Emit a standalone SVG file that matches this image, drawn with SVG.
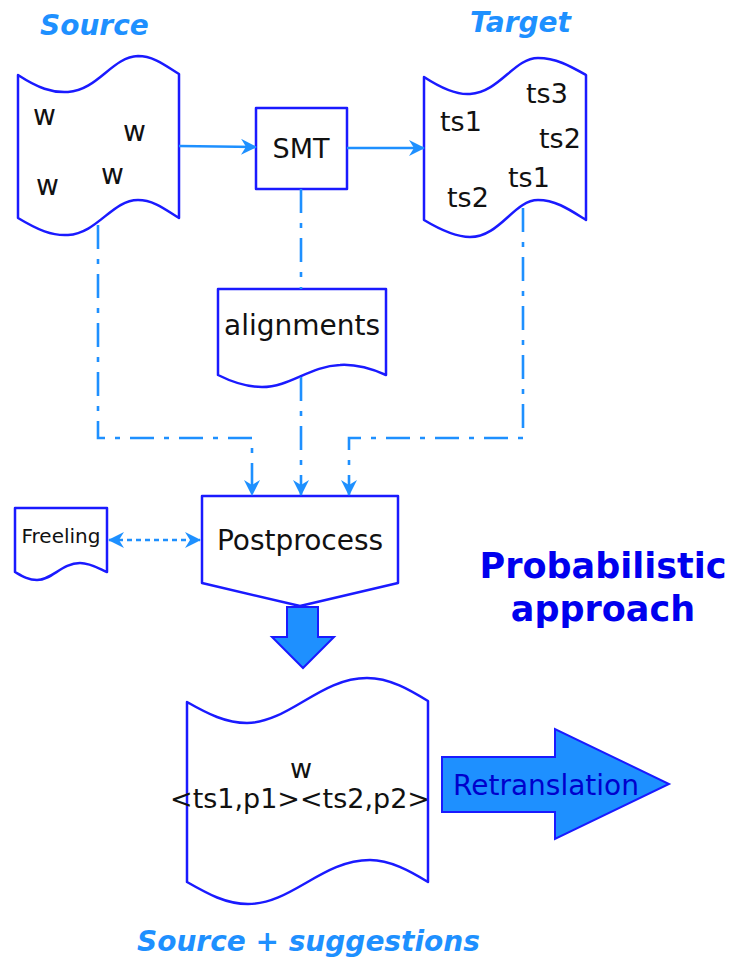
<svg xmlns="http://www.w3.org/2000/svg" width="734" height="961" viewBox="0 0 734 961">
<defs>
<style>
.doc{fill:#fff;stroke:#1a1aff;stroke-width:2.5;stroke-linejoin:round}
.t{font-family:"DejaVu Sans",sans-serif;fill:#111}
.lbl{font-family:"DejaVu Sans",sans-serif;font-weight:bold;font-style:italic;fill:#1e90ff;font-size:28px}
.c{fill:none;stroke:#1e90ff;stroke-width:2.6}
.dd{stroke-dasharray:24,10,5,10}
.big{fill:#1e90ff;stroke:#1a1aff;stroke-width:2}
</style>
<marker id="ah" viewBox="0 0 16 16" refX="15" refY="8" markerWidth="16" markerHeight="16" markerUnits="userSpaceOnUse" orient="auto">
<path d="M0,0 L16,8 L0,16 L5,8 Z" fill="#1e90ff"/>
</marker>
<marker id="ah2" viewBox="0 0 16 16" refX="15" refY="8" markerWidth="16" markerHeight="16" markerUnits="userSpaceOnUse" orient="auto-start-reverse">
<path d="M0,0 L16,8 L0,16 L5,8 Z" fill="#1e90ff"/>
</marker>
</defs>
<text class="lbl" x="40" y="35">Source</text>
<text class="lbl" x="470" y="32">Target</text>
<text class="lbl" x="137" y="951">Source + suggestions</text>
<g id="source">
<path class="doc" d="M18,75 C38,88 52,93 68,92 C98,90 112,57 138,56 C154,56 166,66 179,74 L179,218 C166,210 154,200 138,200 C112,200 98,233 68,235 C52,236 38,230 18,218 Z"/>
<text class="t" x="33" y="125" font-size="28">w</text>
<text class="t" x="123" y="141" font-size="28">w</text>
<text class="t" x="36" y="195" font-size="28">w</text>
<text class="t" x="101" y="184" font-size="28">w</text>
</g>
<g id="smt">
<rect class="doc" x="256" y="108" width="91" height="81"/>
<text class="t" x="301" y="158" font-size="27" text-anchor="middle">SMT</text>
</g>
<g id="target">
<path class="doc" d="M424,77 C444,90 458,95 470,94 C500,92 514,58 538,58 C556,58 570,66 586,75 L586,220 C570,210 556,200 538,200 C514,200 500,237 470,237 C458,237 444,232 424,220 Z"/>
<text class="t" x="526" y="103" font-size="27">ts3</text>
<text class="t" x="440" y="131" font-size="27">ts1</text>
<text class="t" x="539" y="148" font-size="27">ts2</text>
<text class="t" x="508" y="187" font-size="27">ts1</text>
<text class="t" x="447" y="207" font-size="27">ts2</text>
</g>
<g id="alignments">
<path class="doc" d="M218,289 L386,289 L386,375 C370,368 356,364 340,365 C310,366 290,387 262,387 C246,387 232,382 218,375 Z"/>
<text class="t" x="302" y="335" font-size="28" text-anchor="middle">alignments</text>
</g>
<g id="postprocess">
<path class="doc" d="M202,496 L398,496 L398,583 L300,606 L202,583 Z"/>
<text class="t" x="300" y="550" font-size="28" text-anchor="middle">Postprocess</text>
</g>
<g id="freeling">
<path class="doc" d="M15,508 L107,508 L107,572 C98,568 90,563 80,563 C62,563 52,580 37,580 C28,580 22,576 15,572 Z"/>
<text class="t" x="61" y="543" font-size="20" text-anchor="middle">Freeling</text>
</g>
<g id="suggestions">
<path class="doc" d="M187,702 C208,714 226,723 247,723 C290,722 320,678 367,678 C390,678 410,690 428,701 L428,882 C410,871 390,860 370,860 C322,860 292,904 248,904 C226,904 208,894 187,882 Z"/>
<text class="t" x="301" y="778" font-size="27" text-anchor="middle">w</text>
<text class="t" x="300" y="808" font-size="27" text-anchor="middle">&lt;ts1,p1&gt;&lt;ts2,p2&gt;</text>
</g>
<g id="retranslation">
<path class="big" d="M442,757 L555,757 L555,729 L669,784 L555,839 L555,812 L442,812 Z"/>
<text x="453" y="795" font-family="DejaVu Sans,sans-serif" font-size="28" fill="#0000cc">Retranslation</text>
</g>
<g id="probabilistic">
<text x="603" y="578" font-family="DejaVu Sans,sans-serif" font-weight="bold" font-size="35" fill="#0000ee" text-anchor="middle">Probabilistic</text>
<text x="603" y="621" font-family="DejaVu Sans,sans-serif" font-weight="bold" font-size="35" fill="#0000ee" text-anchor="middle">approach</text>
</g>
<g id="connectors">
<path class="c" d="M179,146 L256,147" marker-end="url(#ah)"/>
<path class="c" d="M347,148 L424,148" marker-end="url(#ah)"/>
<path class="c dd" d="M98,225 L98,438 L252,438 L252,495" marker-end="url(#ah)"/>
<path class="c dd" d="M301,189 L301,289"/>
<path class="c dd" d="M301,377 L301,495" marker-end="url(#ah)"/>
<path class="c dd" d="M523,208 L523,438 L349,438 L349,495" marker-end="url(#ah)"/>
<path class="c" stroke-dasharray="5,4" d="M109,540 L200,540" marker-start="url(#ah2)" marker-end="url(#ah2)"/>
<path class="big" d="M287,607 L318,607 L318,637 L334,637 L303,668 L272,637 L287,637 Z"/>
</g>
</svg>
